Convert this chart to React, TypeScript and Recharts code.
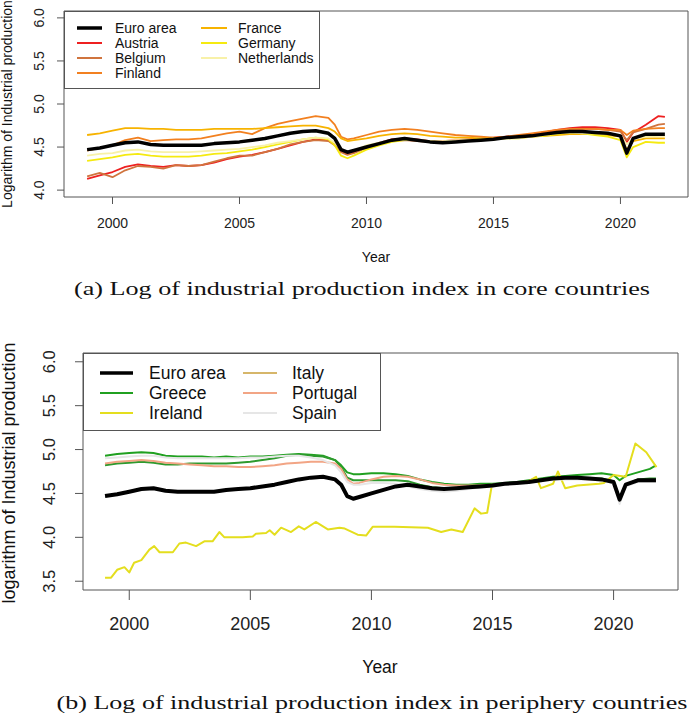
import React from 'react';
import { LineChart, Line, XAxis, YAxis, ReferenceArea } from 'recharts';

// shared time grid (years)
const years = [
  1999, 1999.5, 2000, 2000.5, 2001, 2001.5, 2002, 2002.5, 2003, 2003.5,
  2004, 2004.5, 2005, 2005.5, 2006, 2006.5, 2007, 2007.5, 2008, 2008.5,
  2008.75, 2009, 2009.25, 2009.5, 2010, 2010.5, 2011, 2011.5, 2012, 2012.5,
  2013, 2013.5, 2014, 2014.5, 2015, 2015.5, 2016, 2016.5, 2017, 2017.5,
  2018, 2018.5, 2019, 2019.5, 2020, 2020.25, 2020.5, 2021, 2021.5, 2021.75,
];

const euroArea = [
  4.47, 4.49, 4.52, 4.55, 4.56, 4.53, 4.52, 4.52, 4.52, 4.52,
  4.54, 4.55, 4.56, 4.58, 4.60, 4.63, 4.66, 4.68, 4.69, 4.66,
  4.60, 4.47, 4.44, 4.46, 4.50, 4.54, 4.58, 4.60, 4.58, 4.56,
  4.55, 4.56, 4.57, 4.58, 4.59, 4.61, 4.62, 4.63, 4.65, 4.67,
  4.68, 4.68, 4.67, 4.66, 4.63, 4.43, 4.60, 4.65, 4.65, 4.65,
];
const austria = [
  4.13, 4.17, 4.21, 4.27, 4.30, 4.28, 4.27, 4.29, 4.28, 4.29,
  4.32, 4.36, 4.39, 4.41, 4.44, 4.48, 4.52, 4.56, 4.59, 4.58,
  4.53, 4.45, 4.42, 4.44, 4.50, 4.55, 4.59, 4.60, 4.59, 4.57,
  4.57, 4.58, 4.59, 4.60, 4.61, 4.62, 4.63, 4.65, 4.67, 4.70,
  4.72, 4.73, 4.73, 4.72, 4.70, 4.56, 4.67, 4.76, 4.86, 4.85,
];
const belgium = [
  4.16, 4.20, 4.15, 4.23, 4.28, 4.27, 4.25, 4.29, 4.28, 4.29,
  4.33, 4.37, 4.40, 4.40, 4.44, 4.48, 4.53, 4.56, 4.58, 4.57,
  4.52, 4.44, 4.41, 4.43, 4.49, 4.54, 4.57, 4.58, 4.57, 4.56,
  4.56, 4.57, 4.58, 4.59, 4.60, 4.61, 4.62, 4.64, 4.66, 4.68,
  4.70, 4.71, 4.71, 4.70, 4.68, 4.58, 4.67, 4.71, 4.76, 4.77,
];
const finland = [
  4.46, 4.49, 4.52, 4.58, 4.61, 4.57, 4.58, 4.59, 4.59, 4.60,
  4.63, 4.66, 4.68, 4.65, 4.72, 4.77, 4.80, 4.83, 4.86, 4.84,
  4.76, 4.62, 4.59, 4.60, 4.64, 4.68, 4.70, 4.71, 4.70, 4.68,
  4.66, 4.64, 4.63, 4.62, 4.61, 4.62, 4.64, 4.66, 4.68, 4.70,
  4.71, 4.71, 4.71, 4.70, 4.70, 4.64, 4.69, 4.71, 4.72, 4.72,
];
const france = [
  4.64, 4.66, 4.69, 4.72, 4.72, 4.71, 4.71, 4.70, 4.70, 4.70,
  4.71, 4.71, 4.71, 4.71, 4.72, 4.73, 4.74, 4.75, 4.75, 4.72,
  4.68, 4.60, 4.57, 4.58, 4.60, 4.63, 4.65, 4.66, 4.65, 4.63,
  4.62, 4.61, 4.61, 4.60, 4.60, 4.61, 4.61, 4.62, 4.63, 4.64,
  4.65, 4.65, 4.65, 4.64, 4.62, 4.47, 4.57, 4.60, 4.60, 4.60,
];
const germany = [
  4.34, 4.36, 4.38, 4.41, 4.42, 4.40, 4.39, 4.39, 4.39, 4.40,
  4.42, 4.43, 4.45, 4.47, 4.50, 4.53, 4.56, 4.59, 4.61, 4.59,
  4.52, 4.40, 4.37, 4.40, 4.47, 4.52, 4.56, 4.58, 4.58, 4.57,
  4.56, 4.57, 4.58, 4.59, 4.59, 4.60, 4.60, 4.62, 4.63, 4.65,
  4.67, 4.66, 4.64, 4.62, 4.58, 4.38, 4.50, 4.56, 4.55, 4.55,
];
const netherlands = [
  4.40, 4.42, 4.43, 4.46, 4.47, 4.45, 4.44, 4.44, 4.44, 4.45,
  4.46, 4.47, 4.48, 4.50, 4.52, 4.55, 4.57, 4.59, 4.61, 4.60,
  4.55, 4.47, 4.44, 4.46, 4.52, 4.55, 4.58, 4.59, 4.58, 4.57,
  4.57, 4.58, 4.58, 4.58, 4.59, 4.60, 4.60, 4.62, 4.64, 4.66,
  4.67, 4.66, 4.66, 4.65, 4.64, 4.53, 4.60, 4.62, 4.63, 4.63,
];

const greece = [
  4.93, 4.95, 4.96, 4.97, 4.96, 4.93, 4.92, 4.92, 4.92, 4.91,
  4.92, 4.91, 4.92, 4.92, 4.93, 4.94, 4.95, 4.94, 4.93, 4.88,
  4.82, 4.74, 4.72, 4.72, 4.73, 4.73, 4.72, 4.70, 4.66, 4.63,
  4.61, 4.60, 4.60, 4.61, 4.61, 4.62, 4.63, 4.65, 4.67, 4.69,
  4.70, 4.71, 4.72, 4.73, 4.71, 4.65, 4.70, 4.74, 4.78, 4.82,
];
const italy = [
  4.82, 4.84, 4.85, 4.86, 4.85, 4.83, 4.83, 4.84, 4.84, 4.84,
  4.84, 4.85, 4.86, 4.88, 4.90, 4.93, 4.94, 4.93, 4.92, 4.88,
  4.80, 4.68, 4.65, 4.65, 4.65, 4.65, 4.65, 4.64, 4.60, 4.57,
  4.56, 4.56, 4.57, 4.58, 4.59, 4.61, 4.62, 4.63, 4.65, 4.67,
  4.68, 4.68, 4.67, 4.67, 4.64, 4.45, 4.60, 4.66, 4.67, 4.67,
];
const portugal = [
  4.84, 4.86, 4.87, 4.88, 4.87, 4.85, 4.84, 4.83, 4.82, 4.81,
  4.81, 4.80, 4.80, 4.81, 4.82, 4.84, 4.85, 4.86, 4.86, 4.84,
  4.78, 4.66, 4.61, 4.62, 4.66, 4.69, 4.70, 4.69, 4.66, 4.62,
  4.60, 4.59, 4.59, 4.59, 4.60, 4.61, 4.62, 4.63, 4.65, 4.67,
  4.68, 4.67, 4.66, 4.66, 4.63, 4.42, 4.60, 4.64, 4.64, 4.64,
];
const spain = [
  4.90, 4.91, 4.92, 4.93, 4.93, 4.91, 4.90, 4.90, 4.90, 4.90,
  4.90, 4.90, 4.91, 4.91, 4.92, 4.93, 4.93, 4.91, 4.88, 4.82,
  4.74, 4.63, 4.60, 4.60, 4.62, 4.62, 4.61, 4.58, 4.55, 4.53,
  4.52, 4.53, 4.55, 4.57, 4.58, 4.60, 4.62, 4.63, 4.65, 4.66,
  4.66, 4.66, 4.66, 4.65, 4.62, 4.38, 4.58, 4.63, 4.63, 4.63,
];

// Ireland has its own, finer time grid
const irelandYears = [
  1999.0, 1999.25, 1999.5, 1999.8, 2000.0, 2000.2, 2000.5, 2000.83, 2001.03, 2001.25,
  2001.8, 2002.07, 2002.34, 2002.76, 2003.1, 2003.44, 2003.72, 2003.93, 2004.68, 2005.1,
  2005.23, 2005.65, 2005.8, 2006.0, 2006.27, 2006.68, 2007.0, 2007.23, 2007.7, 2008.2,
  2008.68, 2008.9, 2009.43, 2009.78, 2010.05, 2010.95, 2012.33, 2012.88, 2013.3, 2013.77,
  2014.26, 2014.53, 2014.78, 2014.97, 2015.5, 2016.0, 2016.5, 2016.8, 2017.0, 2017.5,
  2017.7, 2018.0, 2018.5, 2019.4, 2019.6, 2020.0, 2020.5, 2020.9, 2021.35, 2021.77,
];
const irelandValues = [
  3.54, 3.54, 3.63, 3.66, 3.60, 3.71, 3.74, 3.86, 3.90, 3.83,
  3.83, 3.93, 3.94, 3.90, 3.955, 3.955, 4.06, 4.00, 4.00, 4.01,
  4.04, 4.05, 4.08, 4.03, 4.11, 4.06, 4.125, 4.09, 4.175, 4.09,
  4.11, 4.10, 4.03, 4.02, 4.12, 4.12, 4.11, 4.06, 4.09, 4.06,
  4.33, 4.27, 4.28, 4.59, 4.61, 4.62, 4.64, 4.69, 4.56, 4.61,
  4.75, 4.56, 4.59, 4.61, 4.62, 4.71, 4.69, 5.07, 4.97, 4.80,
];

const xTicks = [2000, 2005, 2010, 2015, 2020];
const yTicksA = [4.0, 4.5, 5.0, 5.5, 6.0];
const yTicksB = [3.5, 4.0, 4.5, 5.0, 5.5, 6.0];

type S = { key: string; name: string; values: number[]; color: string; legendColor?: string; width: number };

const coreSeries: S[] = [
  { key: 'euroArea', name: 'Euro area', values: euroArea, color: '#000000', width: 3.5 },
  { key: 'austria', name: 'Austria', values: austria, color: '#EE2020', width: 1.8 },
  { key: 'belgium', name: 'Belgium', values: belgium, color: '#D0743E', width: 1.8 },
  { key: 'finland', name: 'Finland', values: finland, color: '#F28020', width: 1.8 },
  { key: 'france', name: 'France', values: france, color: '#F7B300', width: 1.8 },
  { key: 'germany', name: 'Germany', values: germany, color: '#F5EA10', width: 1.8 },
  { key: 'netherlands', name: 'Netherlands', values: netherlands, color: '#F8F1A8', width: 1.8 },
];

const periSeries: S[] = [
  { key: 'euroArea', name: 'Euro area', values: euroArea, color: '#000000', width: 4 },
  { key: 'greece', name: 'Greece', values: greece, color: '#20A020', width: 2 },
  { key: 'ireland', name: 'Ireland', values: irelandValues, color: '#E4DE1E', width: 2 },
  { key: 'italy', name: 'Italy', values: italy, color: '#2E9A2E', legendColor: '#D6B66A', width: 2 },
  { key: 'portugal', name: 'Portugal', values: portugal, color: '#F2A585', width: 2 },
  { key: 'spain', name: 'Spain', values: spain, color: '#E6E6E6', width: 2 },
];

const buildRows = (series: S[]) =>
  years.map((x, i) => {
    const r: Record<string, number> = { x };
    series.forEach((s) => {
      if (s.key !== 'ireland') r[s.key] = s.values[i];
    });
    return r;
  });

const rowsA = buildRows(coreSeries);
const rowsB = buildRows(periSeries);
const irelandRows = irelandYears.map((x, i) => ({ x, ireland: irelandValues[i] }));

const SANS = '"Liberation Sans", Arial, sans-serif';
const SERIF = '"Liberation Serif", "DejaVu Serif", serif';
const AX = '#555';

const xDomA: [number, number] = [1998.09, 2022.66];
const yDomA: [number, number] = [3.92, 6.08];
const xDomB: [number, number] = [1998.09, 2022.66];
const yDomB: [number, number] = [3.4, 6.1];

const makeXTick = (dy: number, fs: number) => (p: any) => (
  <text x={p.x} y={p.y + dy} textAnchor="middle" fontSize={fs} fontFamily={SANS} fill="#222">
    {p.payload.value}
  </text>
);
const makeYTick = (dx: number, fs: number) => (p: any) => {
  const x = p.x + dx;
  return (
    <text x={x} y={p.y} transform={`rotate(-90 ${x} ${p.y})`} textAnchor="middle" fontSize={fs} fontFamily={SANS} fill="#222">
      {Number(p.payload.value).toFixed(1)}
    </text>
  );
};

const legendA = { x: 64, y: 11, w: 255, h: 77, rows: [28, 43, 58, 73], cols: [[77, 102, 115], [201, 227, 238]], fs: 14 };
const legendB = { x: 83, y: 353, w: 297, h: 77, rows: [373, 393, 413], cols: [[100, 133, 149], [243, 277, 292]], fs: 17.5 };

function LegendBox({ series, cfg }: { series: S[]; cfg: typeof legendA }) {
  const nRows = cfg.rows.length;
  return (
    <g>
      <rect x={cfg.x + 0.5} y={cfg.y + 0.5} width={cfg.w} height={cfg.h} fill="#fff" stroke={AX} strokeWidth={1} />
      {series.map((s, i) => {
        const col = cfg.cols[Math.floor(i / nRows)];
        const cy = cfg.rows[i % nRows];
        return (
          <g key={s.key}>
            <line x1={col[0]} x2={col[1]} y1={cy} y2={cy} stroke={s.legendColor || s.color} strokeWidth={s.key === 'euroArea' ? 3.5 : 2} />
            <text x={col[2]} y={cy + cfg.fs * 0.36} fontSize={cfg.fs} fontFamily={SANS} fill="#111">
              {s.name}
            </text>
          </g>
        );
      })}
    </g>
  );
}

export default function App() {
  return (
    <div style={{ position: 'absolute', left: 0, top: 0, width: 690, height: 715, background: '#fff' }}>
      <div style={{ position: 'absolute', left: 0, top: 0 }}>
        <LineChart width={690} height={270} data={rowsA} margin={{ top: 11, right: 2, bottom: 0, left: 0 }}>
          <XAxis
            dataKey="x"
            type="number"
            domain={xDomA}
            ticks={xTicks}
            allowDataOverflow
            height={73}
            axisLine={false}
            tickSize={7}
            tickMargin={0}
            tickLine={{ stroke: AX }}
            tick={makeXTick(24, 14)}
            interval={0}
          />
          <YAxis
            type="number"
            domain={yDomA}
            ticks={yTicksA}
            allowDataOverflow
            width={64}
            axisLine={false}
            tickSize={7}
            tickMargin={0}
            tickLine={{ stroke: AX }}
            tick={makeYTick(-13, 14)}
            interval={0}
          />
          <ReferenceArea x1={xDomA[0]} x2={xDomA[1]} y1={yDomA[0]} y2={yDomA[1]} fill="none" stroke={AX} strokeWidth={1} ifOverflow="visible" />
          {[...coreSeries.slice(1), coreSeries[0]].map((s) => (
            <Line
              key={s.key}
              dataKey={s.key}
              name={s.name}
              type="linear"
              stroke={s.color}
              strokeWidth={s.width}
              dot={false}
              strokeLinejoin="round"
              isAnimationActive={false}
            />
          ))}
        </LineChart>
      </div>
      <div style={{ position: 'absolute', left: 0, top: 330 }}>
        <LineChart width={690} height={310} data={rowsB} margin={{ top: 23, right: 12, bottom: 0, left: 0 }}>
          <XAxis
            dataKey="x"
            type="number"
            domain={xDomB}
            ticks={xTicks}
            allowDataOverflow
            height={50}
            axisLine={false}
            tickSize={10}
            tickMargin={0}
            tickLine={{ stroke: AX }}
            tick={makeXTick(30, 18)}
            interval={0}
          />
          <YAxis
            type="number"
            domain={yDomB}
            ticks={yTicksB}
            allowDataOverflow
            width={83}
            axisLine={false}
            tickSize={8}
            tickMargin={0}
            tickLine={{ stroke: AX }}
            tick={makeYTick(-20, 16.5)}
            interval={0}
          />
          <ReferenceArea x1={xDomB[0]} x2={xDomB[1]} y1={yDomB[0]} y2={yDomB[1]} fill="none" stroke={AX} strokeWidth={1} ifOverflow="visible" />
          {periSeries
            .filter((s) => s.key !== 'euroArea')
            .map((s) =>
              s.key === 'ireland' ? (
                <Line
                  key={s.key}
                  data={irelandRows}
                  dataKey="ireland"
                  name={s.name}
                  type="linear"
                  stroke={s.color}
                  strokeWidth={s.width}
                  dot={false}
                  strokeLinejoin="round"
                  isAnimationActive={false}
                />
              ) : (
                <Line
                  key={s.key}
                  dataKey={s.key}
                  name={s.name}
                  type="linear"
                  stroke={s.color}
                  strokeWidth={s.width}
                  dot={false}
                  strokeLinejoin="round"
                  isAnimationActive={false}
                />
              )
            )}
          <Line
            dataKey="euroArea"
            name="Euro area"
            type="linear"
            stroke="#000"
            strokeWidth={4}
            dot={false}
            strokeLinejoin="round"
            isAnimationActive={false}
          />
        </LineChart>
      </div>
      <svg width={690} height={715} style={{ position: 'absolute', left: 0, top: 0, pointerEvents: 'none' }}>
        <LegendBox series={coreSeries} cfg={legendA} />
        <LegendBox series={periSeries} cfg={legendB} />
        <text x={12} y={104} transform="rotate(-90 12 104)" textAnchor="middle" fontSize={14} fontFamily={SANS} fill="#111">
          Logarithm of Industrial production
        </text>
        <text x={376} y={262} textAnchor="middle" fontSize={14} fontFamily={SANS} fill="#111">
          Year
        </text>
        <text x={362} y={295} textAnchor="middle" fontSize={19} fontFamily={SERIF} fill="#111" textLength={576} lengthAdjust="spacingAndGlyphs">
          (a) Log of industrial production index in core countries
        </text>
        <text x={15} y={473} transform="rotate(-90 15 473)" textAnchor="middle" fontSize={18} fontFamily={SANS} fill="#111">
          logarithm of Industrial production
        </text>
        <text x={380} y={673} textAnchor="middle" fontSize={17.5} fontFamily={SANS} fill="#111">
          Year
        </text>
        <text x={372} y={709} textAnchor="middle" fontSize={19} fontFamily={SERIF} fill="#111" textLength={631} lengthAdjust="spacingAndGlyphs">
          (b) Log of industrial production index in periphery countries
        </text>
      </svg>
    </div>
  );
}
